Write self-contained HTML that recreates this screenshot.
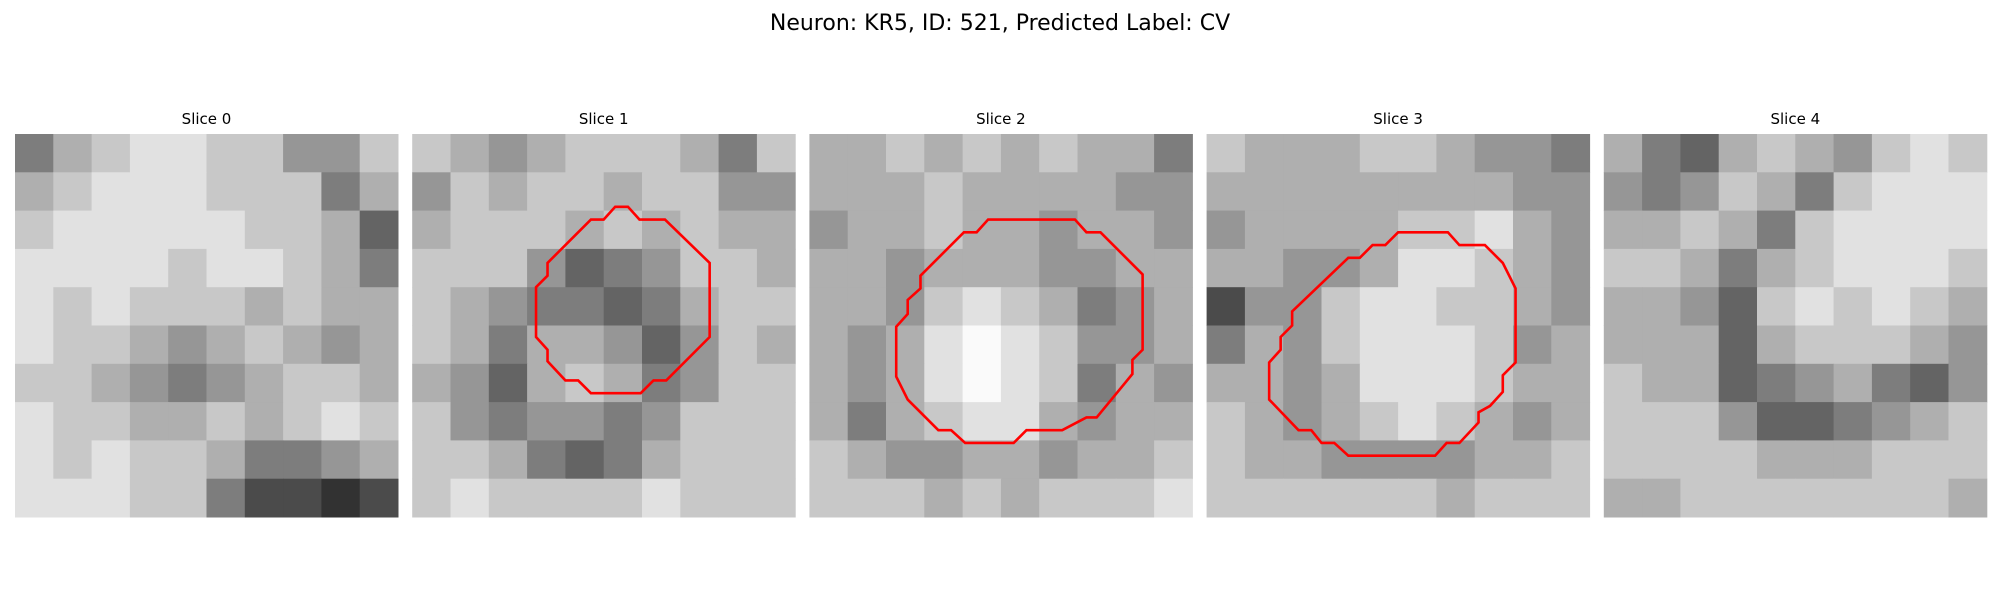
<!DOCTYPE html>
<html><head><meta charset="utf-8"><style>
body{margin:0;background:#fff;}
svg{display:block;font-family:"DejaVu Sans","Liberation Sans",sans-serif;}
</style></head><body>
<svg id="fig" width="2000" height="600" viewBox="0 0 2000 600">
<text x="1000" y="30" text-anchor="middle" font-size="22">Neuron: KR5, ID: 521, Predicted Label: CV</text>
<g id="panels"></g>
</svg>
<script>
const sliceLabels = ["Slice 0","Slice 1","Slice 2","Slice 3","Slice 4"];
const grid0 = [
[4,6,7,8,8,7,7,5,5,7],[6,7,8,8,8,7,7,7,4,6],[7,8,8,8,8,8,7,7,6,3],[8,8,8,8,7,8,8,7,6,4],[8,7,8,7,7,7,6,7,6,6],
[8,7,7,6,5,6,7,6,5,6],[7,7,6,5,4,5,6,7,7,6],[8,7,7,6,6,7,6,7,8,7],[8,7,8,7,7,6,4,4,5,6],[8,8,8,7,7,4,2,2,1,2]];
const grid1 = [
[7,6,5,6,7,7,7,6,4,7],[5,7,6,7,7,6,7,7,5,5],[6,7,7,7,6,7,6,7,6,6],[7,7,7,5,3,4,5,7,7,6],[7,6,5,4,4,3,4,6,7,7],
[7,6,4,6,6,5,3,5,7,6],[6,5,3,6,7,6,4,5,7,7],[7,5,4,5,5,4,5,7,7,7],[7,7,6,4,3,4,6,7,7,7],[7,8,7,7,7,7,8,7,7,7]];
const grid2 = [
[6,6,7,6,7,6,7,6,6,4],[6,6,6,7,6,6,6,6,5,5],[5,6,6,7,6,6,5,6,6,5],[6,6,5,6,6,6,5,5,6,6],[6,6,5,7,8,7,6,4,5,6],
[6,5,6,8,9,8,7,5,5,6],[6,5,6,8,9,8,7,4,6,5],[6,4,6,7,8,8,6,5,6,6],[7,6,5,5,6,6,5,6,6,7],[7,7,7,6,7,6,7,7,7,8]];
const grid3 = [
[7,6,6,6,7,7,6,5,5,4],[6,6,6,6,6,6,6,6,5,5],[5,6,6,6,6,7,7,8,6,5],[6,6,5,5,6,8,8,7,6,5],[2,5,5,7,8,8,7,7,6,5],
[4,6,5,7,8,8,8,7,5,6],[6,6,5,6,8,8,8,7,6,6],[7,6,5,6,7,8,7,6,5,6],[7,6,6,5,5,5,5,6,6,7],[7,7,7,7,7,7,6,7,7,7]];
const grid4 = [
[6,4,3,6,7,6,5,7,8,7],[5,4,5,7,6,4,7,8,8,8],[6,6,7,6,4,7,8,8,8,8],[7,7,6,4,6,7,8,8,8,7],[6,6,5,3,7,8,7,8,7,6],
[6,6,6,3,6,7,7,7,6,5],[7,6,6,3,4,5,6,4,3,5],[7,7,7,5,3,3,4,5,6,7],[7,7,7,7,6,6,6,7,7,7],[6,6,7,7,7,7,7,7,7,6]];
const grids = [grid0,grid1,grid2,grid3,grid4];
const contour1 = [[15.9,5.7],[16.9,5.7],[17.8,6.7],[19.8,6.7],[23.3,10.1],[23.3,15.9],[19.9,19.3],[18.9,19.3],[17.9,20.3],[14.0,20.3],[13.0,19.3],[12.0,19.3],[10.6,17.8],[10.6,16.9],[9.7,15.9],[9.7,12.0],[10.6,11.1],[10.6,10.1],[13.0,7.7],[14.0,6.7],[15.0,6.7]];
const contour2 = [[14.0,6.7],[20.8,6.7],[21.7,7.7],[22.8,7.7],[26.1,11.0],[26.1,16.9],[25.3,17.7],[25.3,18.8],[22.5,22.2],[21.7,22.2],[19.8,23.2],[17.0,23.2],[16.0,24.2],[12.2,24.2],[11.1,23.2],[10.1,23.2],[7.7,20.8],[6.8,19.0],[6.8,15.1],[7.7,14.1],[7.7,13.0],[8.7,12.1],[8.7,11.1],[12.1,7.7],[13.1,7.7]];
const contour3 = [[15.0,7.7],[18.9,7.7],[19.8,8.7],[21.8,8.7],[23.2,10.1],[24.2,12.1],[24.2,17.9],[23.2,18.9],[23.2,20.2],[22.2,21.3],[21.3,21.8],[21.3,22.6],[19.8,24.2],[18.8,24.2],[17.9,25.2],[11.1,25.2],[10.0,24.2],[9.0,24.2],[8.2,23.2],[7.2,23.2],[4.9,20.8],[4.9,17.9],[5.8,16.9],[5.8,15.9],[6.7,15.0],[6.7,13.9],[11.1,9.7],[12.0,9.7],[13.0,8.7],[14.0,8.7]];
const contours = [null,contour1,contour2,contour3,null];

const NS="http://www.w3.org/2000/svg";
const panelX = i => 15 + i*397.2;
const panelY = 134, panelW = 383;
const gray = v => { const g = Math.round(25 + v*25); return `rgb(${g},${g},${g})`; };
const root = document.getElementById('panels');
grids.forEach((g, i) => {
  const grp = document.createElementNS(NS,'g');
  
  
  root.appendChild(grp);
  const t = document.createElementNS(NS,'text');
  t.setAttribute('x', panelX(i) + panelW/2); t.setAttribute('y', 124);
  t.setAttribute('text-anchor','middle'); t.setAttribute('font-size','15');
  t.textContent = sliceLabels[i];
  
  
  grp.appendChild(t);
  const n = g.length, cs = panelW / n;
  g.forEach((row, r) => row.forEach((v, c) => {
    const rc = document.createElementNS(NS,'rect');
    rc.setAttribute('x', panelX(i) + c*cs); rc.setAttribute('y', panelY + r*cs);
    rc.setAttribute('width', cs + 0.5); rc.setAttribute('height', cs + 0.5);
    rc.setAttribute('fill', gray(v));
    
    
    grp.appendChild(rc);
  }));
  const ct = contours[i];
  if (ct) {
    const u = panelW / 30;
    const pl = document.createElementNS(NS,'polygon');
    pl.setAttribute('points', ct.map(p => (panelX(i) + p[0]*u) + ',' + (panelY + p[1]*u)).join(' '));
    pl.setAttribute('fill','none'); pl.setAttribute('stroke','#ff0000'); pl.setAttribute('stroke-width','2.6');
    
    
    grp.appendChild(pl);
  }
});
</script>
</body></html>
